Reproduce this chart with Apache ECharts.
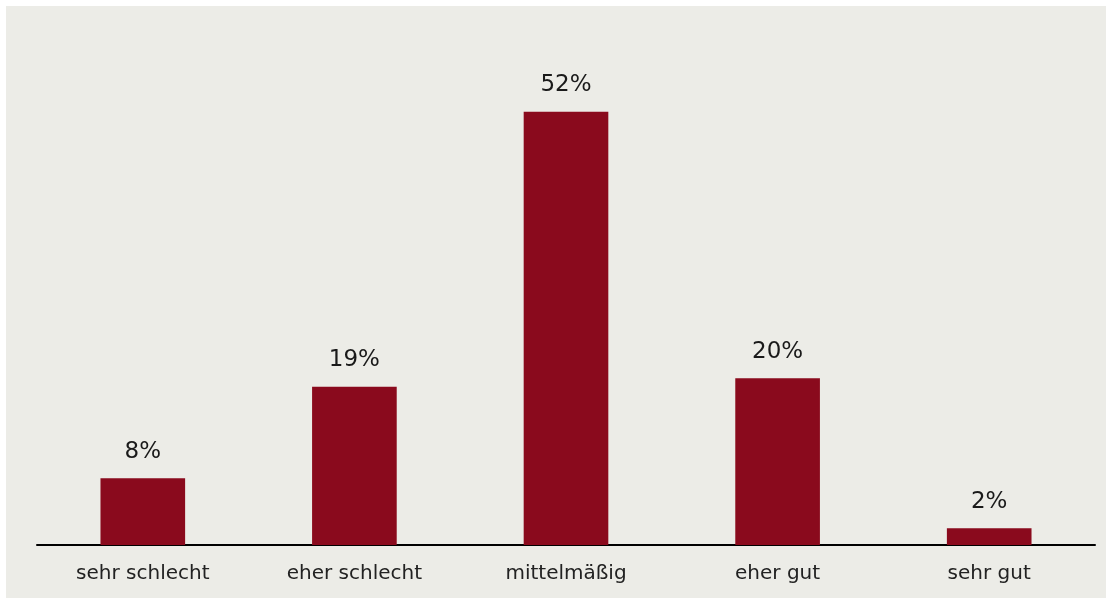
<!DOCTYPE html>
<html>
<head>
<meta charset="utf-8">
<script src="https://cdn.jsdelivr.net/npm/echarts@6/dist/echarts.min.js"></script>
<style>
  html, body { margin: 0; padding: 0; background: #ffffff; }
  #frame { position: absolute; left: 6px; top: 6px; width: 1100px; height: 592px; background: #ecece7; }
  #chart { position: absolute; left: 0; top: 0; width: 1106px; height: 598px; }
</style>
</head>
<body>
<div id="frame"></div>
<div id="chart"></div>
<script>
// Ratings and their shares in percent
const categories = ['sehr schlecht', 'eher schlecht', 'mittelmäßig', 'eher gut', 'sehr gut'];
const shares = [8, 19, 52, 20, 2];

const chart = echarts.init(document.getElementById('chart'), null, { renderer: 'canvas' });
chart.setOption({
  backgroundColor: 'transparent',
  animation: false,
  textStyle: { fontFamily: '"DejaVu Sans", sans-serif' },
  grid: { left: 37, right: 11, top: 45, bottom: 53, containLabel: false },
  xAxis: {
    type: 'category',
    data: categories,
    axisLine: { show: true, lineStyle: { color: '#000000', width: 2 } },
    axisTick: { show: false },
    axisLabel: { color: '#222222', fontSize: 20, margin: 19 }
  },
  yAxis: {
    type: 'value',
    min: 0,
    max: 60,
    show: false,
    splitLine: { show: false }
  },
  series: [{
    type: 'bar',
    data: shares,
    barWidth: '40%',
    itemStyle: { color: '#8a0a1d' },
    label: {
      show: true,
      position: 'top',
      distance: 15,
      color: '#1a1a1a',
      fontSize: 23,
      formatter: p => p.value + '%'
    }
  }]
});
</script>
</body>
</html>
